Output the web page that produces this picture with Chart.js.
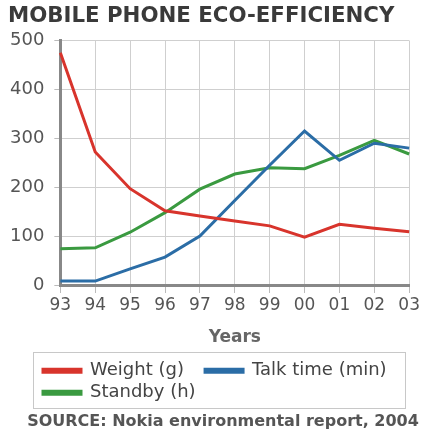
<!DOCTYPE html>
<html>
<head>
<meta charset="utf-8">
<script src="https://cdn.jsdelivr.net/npm/chart.js@4/dist/chart.umd.min.js"></script>
<style>
  html, body { margin: 0; padding: 0; background: #fff; }
  #wrap { width: 422px; height: 432px; position: relative; }
</style>
</head>
<body>
<div id="wrap"><canvas id="ecoChart"></canvas></div>
<script>
const years = ['93', '94', '95', '96', '97', '98', '99', '00', '01', '02', '03'];
const weight = [475, 272, 197, 152, 141, 131, 121, 98, 124, 116, 109];
const talkTime = [8, 8, 33, 57, 100, 173, 245, 315, 255, 290, 280];
const standby = [74, 76, 108, 148, 196, 227, 240, 238, 265, 296, 268];
const sourceNote = 'SOURCE: Nokia environmental report, 2004';

// nudge title, legend and source line, frame the legend in grey
const legendFrame = {
  id: 'legendFrame',
  afterLayout(chart) {
    chart.titleBlock.left += 8;
    chart.legend.left += 39;
    const src = chart.boxes.find(b => b !== chart.titleBlock && b.options && b.options.text === sourceNote);
    if (src) { src.left += 18; src.right += 18; }
  },
  afterDraw(chart) {
    const lg = chart.legend;
    const c = chart.ctx;
    c.save();
    c.strokeStyle = '#c8c8c8';
    c.lineWidth = 1;
    c.strokeRect(33.5, Math.round(lg.top) - 5.5, 372, 56);
    c.restore();
  }
};

const ctx = document.getElementById('ecoChart').getContext('2d');
new Chart(ctx, {
  type: 'line',
  data: {
    labels: years,
    datasets: [
      { label: 'Weight (g)', data: weight, borderColor: '#d8342c', backgroundColor: '#d8342c' },
      { label: 'Talk time (min)', data: talkTime, borderColor: '#2b6da6', backgroundColor: '#2b6da6' },
      { label: 'Standby (h)', data: standby, borderColor: '#3a9a40', backgroundColor: '#3a9a40' }
    ]
  },
  options: {
    responsive: true,
    maintainAspectRatio: false,
    animation: false,
    layout: { padding: { left: 0, right: 12, top: 0, bottom: 1 } },
    elements: {
      line: { borderWidth: 3, tension: 0 },
      point: { radius: 0 }
    },
    plugins: {
      title: {
        display: true,
        text: 'MOBILE PHONE ECO-EFFICIENCY',
        align: 'start',
        color: '#3a3a3a',
        font: { family: 'DejaVu Sans', size: 21.3, weight: 'bold' },
        padding: { top: 4, bottom: 11 }
      },
      subtitle: {
        display: true,
        position: 'bottom',
        text: sourceNote,
        color: '#555',
        font: { family: 'DejaVu Sans', size: 16, weight: 'bold' },
        padding: { top: 0, bottom: 0 }
      },
      legend: {
        position: 'bottom',
        align: 'start',
        labels: {
          color: '#444',
          font: { family: 'DejaVu Sans', size: 18 },
          boxWidth: 38,
          boxHeight: 3,
          padding: 4,
          generateLabels(chart) {
            const items = Chart.defaults.plugins.legend.labels.generateLabels(chart);
            items[0].text += '   ';
            return items;
          }
        }
      },
      tooltip: { enabled: false }
    },
    scales: {
      x: {
        offset: false,
        grid: { color: '#cfcfcf', tickLength: 8, tickColor: '#bbb' },
        border: { color: '#888', width: 3 },
        ticks: {
          color: '#555',
          font: { family: 'DejaVu Sans', size: 17 },
          maxRotation: 0,
          padding: 2
        },
        title: {
          display: true,
          text: 'Years',
          color: '#666',
          font: { family: 'DejaVu Sans', size: 17, weight: 'bold' },
          padding: { top: 10, bottom: 10 }
        }
      },
      y: {
        min: 0,
        max: 500,
        grid: { color: '#cfcfcf', tickLength: 6, tickColor: '#bbb' },
        border: { color: '#888', width: 3 },
        ticks: {
          stepSize: 100,
          color: '#555',
          font: { family: 'DejaVu Sans', size: 18 },
          padding: 10
        }
      }
    }
  },
  plugins: [legendFrame]
});
</script>
</body>
</html>
